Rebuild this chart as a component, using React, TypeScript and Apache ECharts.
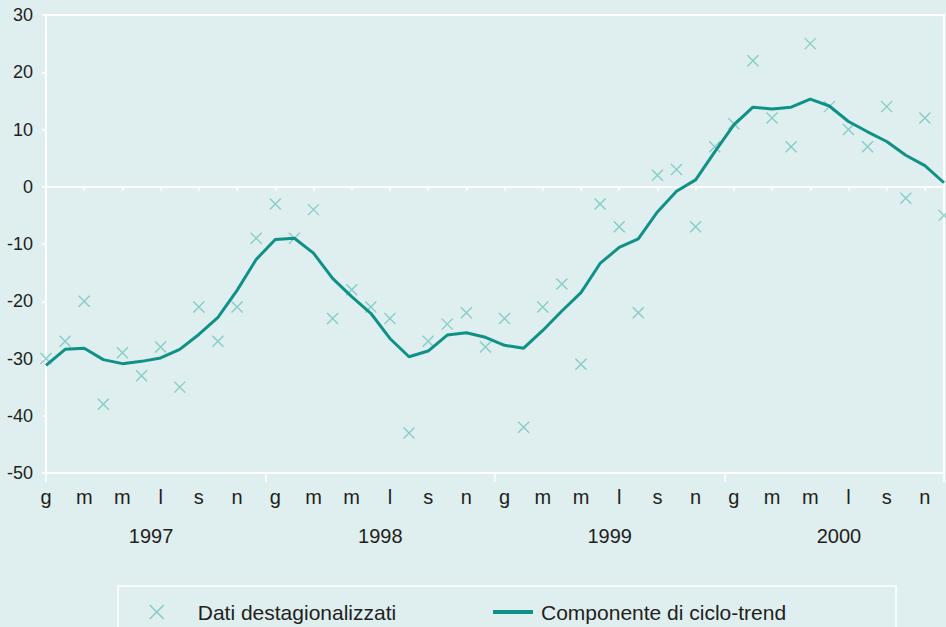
import React, { useEffect, useRef } from "react";
import * as echarts from "echarts";

const monthInitials = ["g", "f", "m", "a", "m", "g", "l", "a", "s", "o", "n", "d"];
const years = ["1997", "1998", "1999", "2000"];
const categories = years.flatMap((y) => monthInitials.map((m, i) => `${m}|${y}|${i}`));

const seasonallyAdjusted = [
  -30, -27, -20, -38, -29, -33, -28, -35, -21, -27, -21, -9,
  -3, -9, -4, -23, -18, -21, -23, -43, -27, -24, -22, -28,
  -23, -42, -21, -17, -31, -3, -7, -22, 2, 3, -7, 7,
  11, 22, 12, 7, 25, 14, 10, 7, 14, -2, 12, -5,
];

const cycleTrend = [
  -31.2, -28.4, -28.2, -30.2, -30.9, -30.5, -29.9, -28.4, -25.8, -22.8, -18.1, -12.7,
  -9.2, -9.0, -11.6, -16.0, -19.2, -22.1, -26.5, -29.7, -28.7, -25.9, -25.5, -26.3,
  -27.7, -28.2, -25.1, -21.7, -18.5, -13.4, -10.6, -9.1, -4.4, -0.8, 1.2, 6.1,
  10.8, 13.9, 13.6, 13.9, 15.3, 14.1, 11.4, 9.6, 7.9, 5.5, 3.7, 0.7,
];

const yearTickValues = [0, 11.5, 23.5, 35.5, 47];
const yearLabelValues = [5.5, 17.5, 29.5, 41.5];

const BG = "#dfeeee";
const LINE = "#0f9188";
const MARK = "#6cc4be";
const TEXT = "#231f20";
const FONT = "'Liberation Sans', Arial, Helvetica, sans-serif";
const X_PATH = "path://M0,0L10,10M10,0L0,10";

export default function App() {
  const ref = useRef<HTMLDivElement>(null);

  useEffect(() => {
    if (!ref.current) return;
    const chart = echarts.init(ref.current, undefined, { renderer: "svg" });
    chart.setOption({
      animation: false,
      backgroundColor: BG,
      textStyle: { fontFamily: FONT },
      grid: {
        left: 46,
        right: 2,
        top: 15,
        bottom: 154,
        show: true,
        borderColor: "#ffffff",
        borderWidth: 2,
        backgroundColor: "transparent",
        containLabel: false,
        outerBoundsMode: "none",
      },
      xAxis: [
        {
          type: "category",
          data: categories,
          boundaryGap: false,
          position: "bottom",
          axisLine: { onZero: false, lineStyle: { color: "#ffffff", width: 2 } },
          axisTick: { show: false },
          axisLabel: {
            interval: 1,
            formatter: (v: string) => v.split("|")[0],
            fontSize: 20,
            color: TEXT,
            fontFamily: FONT,
            margin: 14,
          },
          splitLine: { show: false },
        },
        {
          type: "category",
          data: categories,
          boundaryGap: false,
          position: "bottom",
          axisLine: { onZero: true, lineStyle: { color: "#ffffff", width: 2 } },
          axisTick: { show: true, interval: 1, length: 4, lineStyle: { color: "#ffffff", width: 1.5 } },
          axisLabel: { show: false },
          splitLine: { show: false },
        },
        {
          type: "value",
          min: 0,
          max: 47,
          position: "bottom",
          axisLine: { show: false, onZero: false },
          axisTick: {
            show: true,
            customValues: yearTickValues,
            length: 9,
            lineStyle: { color: "#ffffff", width: 1.5 },
          },
          axisLabel: {
            customValues: yearLabelValues,
            formatter: (v: number) => years[Math.round((v - 5.5) / 12)] ?? "",
            fontSize: 20,
            color: TEXT,
            fontFamily: FONT,
            margin: 53,
          },
          splitLine: { show: false },
        },
      ],
      yAxis: {
        type: "value",
        min: -50,
        max: 30,
        interval: 10,
        axisLine: { show: true, onZero: false, lineStyle: { color: "#ffffff", width: 2 } },
        axisTick: { show: true, length: 4, lineStyle: { color: "#ffffff", width: 1.5 } },
        axisLabel: { fontSize: 18, color: TEXT, fontFamily: FONT, margin: 13 },
        splitLine: { show: false },
      },
      legend: [
        {
          left: 149,
          top: 600,
          padding: 0,
          itemWidth: 14,
          itemHeight: 14,
          selectedMode: false,
          data: [{ name: "Dati destagionalizzati", icon: X_PATH }],
          itemStyle: { color: "rgba(0,0,0,0)", borderColor: MARK, borderWidth: 1.5 },
          textStyle: {
            fontSize: 21,
            color: TEXT,
            fontFamily: FONT,
            lineHeight: 24,
            padding: [0, 0, 0, 29],
          },
        },
        {
          left: 493,
          top: 600,
          padding: 0,
          itemWidth: 40,
          itemHeight: 4,
          selectedMode: false,
          data: [{ name: "Componente di ciclo-trend", icon: "rect" }],
          itemStyle: { color: LINE },
          textStyle: {
            fontSize: 21,
            color: TEXT,
            fontFamily: FONT,
            lineHeight: 24,
            padding: [0, 0, 0, 3],
          },
        },
      ],
      graphic: [
        {
          type: "rect",
          shape: { x: 118, y: 586, width: 778, height: 80 },
          style: { fill: "none", stroke: "#ffffff", lineWidth: 1.5 },
          silent: true,
          z: 0,
        },
      ],
      series: [
        {
          name: "Dati destagionalizzati",
          type: "scatter",
          data: seasonallyAdjusted,
          symbol: X_PATH,
          symbolSize: 11,
          itemStyle: { color: MARK, borderColor: MARK, borderWidth: 1.3 },
          z: 2,
        },
        {
          name: "Componente di ciclo-trend",
          type: "line",
          data: cycleTrend,
          symbol: "none",
          lineStyle: { color: LINE, width: 3 },
          itemStyle: { color: LINE },
          z: 3,
        },
      ],
    });
    return () => chart.dispose();
  }, []);

  return (
    <div
      ref={ref}
      style={{ position: "absolute", left: 0, top: 0, width: 946, height: 627 }}
    />
  );
}
